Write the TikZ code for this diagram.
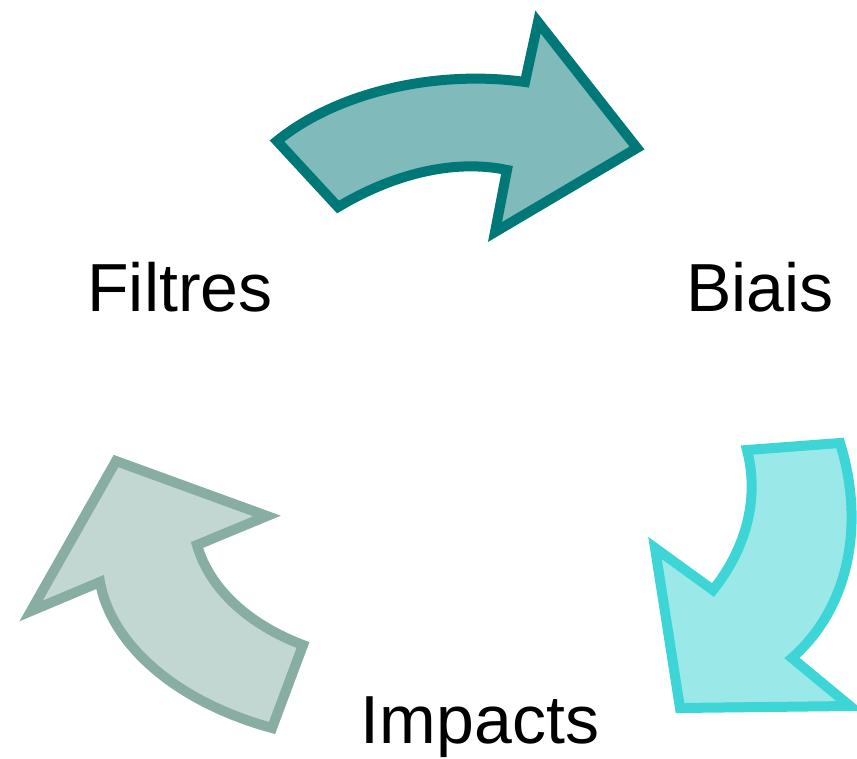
\documentclass[tikz,border=0pt]{standalone}
\usepackage{fontspec}
\setmainfont{Liberation Sans}

\definecolor{tealdark}{HTML}{007878}
\definecolor{teallight}{HTML}{80BABA}
\definecolor{cyandark}{HTML}{3DD5D5}
\definecolor{cyanlight}{HTML}{9AE8E8}
\definecolor{sagedark}{HTML}{88ADA3}
\definecolor{sagelight}{HTML}{C2D6D2}

\begin{document}
\begin{tikzpicture}[x=1pt,y=-1pt]

      \useasboundingbox (0,0) rectangle (857,758);

      \begin{scope}[every path/.style={line width=10pt, miter limit=10}]
        % top arrow
        \draw[tealdark, fill=teallight] (277,141) -- (338,207)
          .. controls (400,170) and (460,160) .. (507,170)
          -- (495,232) -- (637,148) -- (538,22) -- (525,82)
          .. controls (440,70) and (340,90) .. (277,141) -- cycle;
        % right arrow
        \draw[cyandark, fill=cyanlight] (747,450) -- (840,443)
          .. controls (864,520) and (852,605) .. (792,658)
          -- (850,706) -- (680,708) -- (655,548) -- (713,590)
          .. controls (745,550) and (760,500) .. (747,450) -- cycle;
        % left arrow
        \draw[sagedark, fill=sagelight] (272,728) -- (303,645)
          .. controls (250,625) and (210,590) .. (197,545)
          -- (267,516) -- (116,461) -- (31,611) -- (100,582)
          .. controls (110,640) and (170,700) .. (272,728) -- cycle;
      \end{scope}

      \begin{scope}[every node/.style={anchor=base, inner sep=0pt, font=\fontsize{68}{80}\selectfont}]
        \node (filtres) at (180,311) {Filtres};
        \node (biais)   at (760,311) {Biais};
        \node (impacts) at (480,743) {Impacts};
      \end{scope}

    \end{tikzpicture}
\end{document}
